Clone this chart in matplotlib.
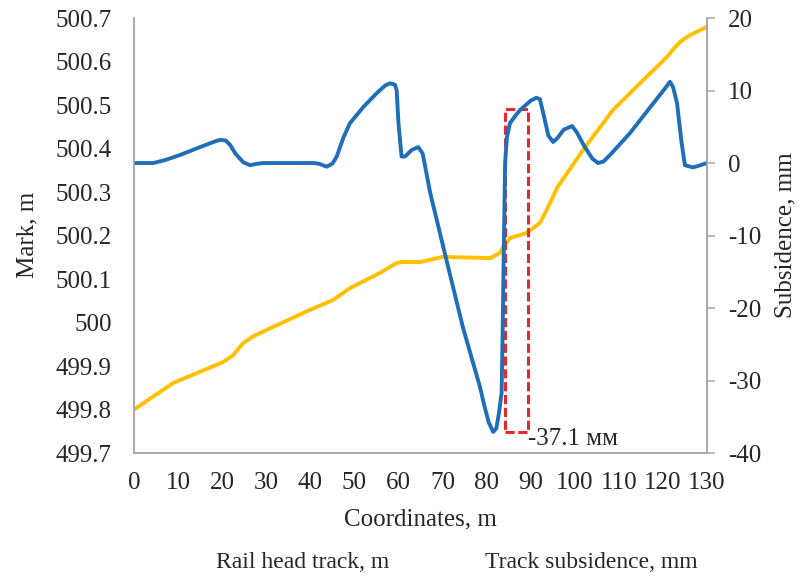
import matplotlib.pyplot as plt
from matplotlib.patches import Rectangle

plt.rcParams['font.family'] = ['Liberation Serif', 'DejaVu Serif']
plt.rcParams['font.size'] = 18
plt.rcParams['axes.unicode_minus'] = False

# Rail head track (left axis, m)
x_rail = [0, 8.9, 20.2, 22.5, 23.7, 24.8, 27, 30.1, 39.9, 45.2, 47, 49, 55.8,
          59.6, 61, 64.9, 70.1, 80.8, 83, 84, 85.3, 89.1, 92.1, 93.2, 94.4, 96,
          101.9, 108.7, 115.5, 120.9, 122.5, 123.9, 126, 130]
rail_mark = [499.80, 499.861, 499.909, 499.925, 499.94, 499.953, 499.968,
             499.983, 500.029, 500.052, 500.065, 500.079, 500.114, 500.137,
             500.139, 500.139, 500.151, 500.148, 500.16, 500.178, 500.194,
             500.206, 500.229, 500.25, 500.275, 500.31, 500.397, 500.489,
             500.557, 500.61, 500.63, 500.645, 500.66, 500.68]

# Track subsidence (right axis, mm)
x_sub = [0, 4.4, 7, 10.4, 15, 18, 19.5, 20.8, 21.8, 23, 24.8, 26.3, 28, 29.3,
         40.6, 42, 43.7, 45, 46, 47.5, 49, 52, 55, 57, 58.1, 59.2, 59.6, 60.0,
         60.7, 61.5, 63, 64.5, 65.5, 67.2, 70.9, 74.6, 78.5, 79.5, 80.5, 81.5,
         82.2, 82.8, 83.4, 83.6, 83.9, 84.2, 84.6, 85.3, 86.5, 87.6, 90, 91.3,
         92.1, 93, 94, 95.1, 96, 97.5, 99.4, 100.5, 102, 104, 105.3, 106.5,
         108, 112.5, 117, 120.5, 121.6, 122.3, 123.2, 124.2, 125, 126.8, 128,
         130]
subsidence = [0, 0, 0.4, 1.1, 2.2, 2.9, 3.2, 3.1, 2.5, 1.3, 0.1, -0.3, -0.1,
              0, 0, -0.1, -0.5, -0.1, 0.9, 3.5, 5.5, 7.7, 9.6, 10.7, 11.0, 10.8,
              10.0, 5.5, 0.9, 0.9, 1.8, 2.2, 1.3, -4.1, -13.4, -22.6, -30.9,
              -33.5, -35.8, -37.1, -36.6, -34.5, -31.7, -25.0, -12.0, 0, 3.5,
              5.5, 6.5, 7.3, 8.6, 9.0, 8.8, 6.5, 3.8, 2.9, 3.4, 4.6, 5.1, 4.2,
              2.5, 0.6, 0, 0.2, 1.1, 4.1, 7.6, 10.3, 11.2, 10.5, 8.3, 3.0, -0.3,
              -0.6, -0.4, 0]

# Highlighted zone around the maximum subsidence
zone_x = [84.2, 89.4]
zone_y = [-37.1, 7.5]
max_sub = -37.1

blue = '#1F6EB7'
gold = '#FFC000'
red = '#E8262B'
grey = '#A6A6A6'
txt = '#262626'

fig = plt.figure(figsize=(8.03, 5.76), dpi=100)
ax = fig.add_axes([0.1669, 0.2135, 0.7135, 0.7552])
ax2 = ax.twinx()

ax.plot(x_rail, rail_mark, color=gold, linewidth=2.8,
        solid_capstyle='round', solid_joinstyle='round')
ax2.plot(x_sub, subsidence, color=blue, linewidth=2.8,
         solid_capstyle='round', solid_joinstyle='round')

# dashed box and its value label
ax2.add_patch(Rectangle((zone_x[0], zone_y[0]), zone_x[1] - zone_x[0],
                        zone_y[1] - zone_y[0], fill=False, edgecolor=red,
                        linewidth=2.2, linestyle=(0, (3, 1.2))))
ax2.text(zone_x[1] + 0.1, -38.9, f'{max_sub} мм', ha='left', va='baseline',
         fontsize=18, color=txt)

ax.set_xlim(0, 130)
ax.set_ylim(499.7, 500.7)
ax2.set_ylim(-40, 20)

ax.set_xticks(range(0, 131, 10))
ax.set_yticks([499.7 + 0.1 * i for i in range(11)])
ax.set_yticklabels(['499.7', '499.8', '499.9', '500', '500.1', '500.2',
                    '500.3', '500.4', '500.5', '500.6', '500.7'])
ax2.set_yticks(range(-40, 21, 10))

for a in (ax, ax2):
    a.spines['top'].set_visible(False)
    for s in ('left', 'bottom', 'right'):
        a.spines[s].set_color(grey)
        a.spines[s].set_linewidth(1.1)

ax.tick_params(axis='x', length=0, pad=14, colors=txt, labelsize=18)
ax.tick_params(axis='y', length=0, pad=16, colors=txt, labelsize=18)
ax2.tick_params(axis='y', direction='out', length=6, width=1.1,
                color=grey, pad=9, labelcolor=txt, labelsize=18)

fig.text(0.034, 0.592, 'Mark, m', rotation=90, ha='center', va='center',
         color=txt)
fig.text(0.978, 0.592, 'Subsidence, mm', rotation=90, ha='center',
         va='center', color=txt)
fig.text(0.523, 0.099, 'Coordinates, m', ha='center', va='center',
         color=txt)

# legend entries
fig.text(0.377, 0.023, 'Rail head track, m', ha='center', va='center',
         color=txt, fontsize=17)
fig.text(0.736, 0.023, 'Track subsidence, mm', ha='center', va='center',
         color=txt, fontsize=17)

fig.savefig('out.png', dpi=100)
